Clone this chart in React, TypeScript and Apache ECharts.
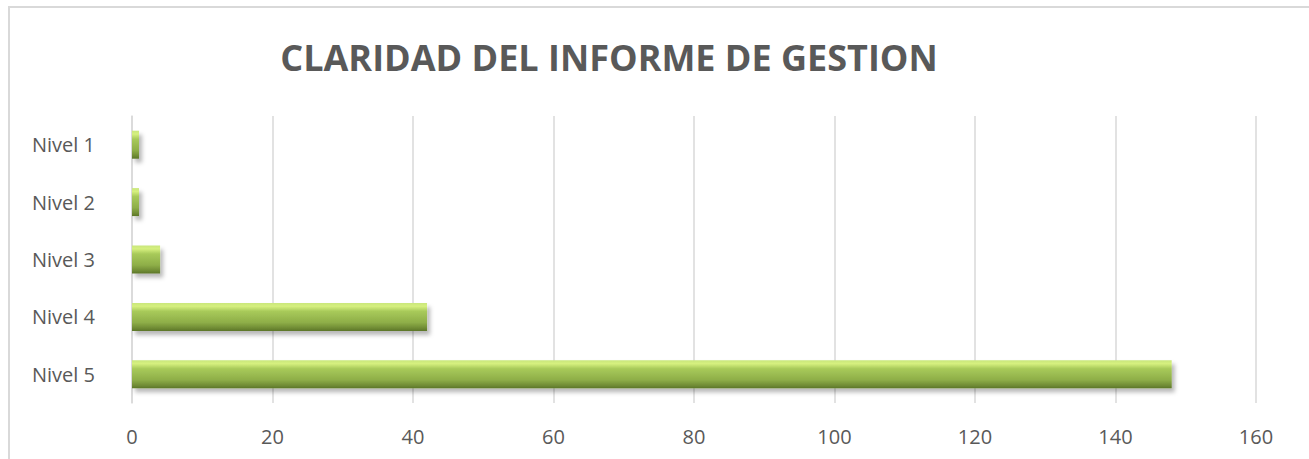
import React, { useEffect, useRef } from "react";
import * as echarts from "echarts";

const categories = ["Nivel 1", "Nivel 2", "Nivel 3", "Nivel 4", "Nivel 5"];
const values = [1, 1, 4, 42, 148];
const titleText = "CLARIDAD DEL INFORME DE GESTION";
const xTicks = { min: 0, max: 160, interval: 20 };

export default function App() {
  const ref = useRef<HTMLDivElement>(null);
  useEffect(() => {
    if (!ref.current) return;
    const chart = echarts.init(ref.current, null, { renderer: "svg" });
    const font = "'Open Sans', 'Liberation Sans', sans-serif";
    chart.setOption({
      animation: false,
      backgroundColor: "#ffffff",
      graphic: [
        {
          type: "rect",
          shape: { x: 9, y: 7, width: 1400, height: 500 },
          style: { fill: "none", stroke: "#d9d9d9", lineWidth: 2 },
          silent: true,
          z: -1,
        },
        {
          type: "text",
          x: 609,
          y: 57,
          style: {
            text: titleText,
            fontFamily: font,
            fontSize: 36,
            fontWeight: "bold",
            fill: "#595959",
            align: "center",
            verticalAlign: "middle",
          },
        },
      ],
      grid: { left: 132, right: 53, top: 116, bottom: 56, containLabel: false },
      xAxis: {
        type: "value",
        min: xTicks.min,
        max: xTicks.max,
        interval: xTicks.interval,
        axisLine: { show: false },
        axisTick: { show: false },
        splitLine: { show: true, lineStyle: { color: "#d9d9d9", width: 1.5 } },
        axisLabel: { color: "#595959", fontFamily: font, fontSize: 20, margin: 23 },
      },
      yAxis: {
        type: "category",
        data: categories,
        inverse: true,
        axisLine: { show: true, lineStyle: { color: "#d9d9d9", width: 1.5 } },
        axisTick: { show: false },
        axisLabel: { color: "#595959", fontFamily: font, fontSize: 20, margin: 37 },
      },
      series: [
        {
          type: "bar",
          data: values,
          barWidth: 28,
          itemStyle: {
            color: new echarts.graphic.LinearGradient(0, 0, 0, 1, [
              { offset: 0, color: "#c9e67c" },
              { offset: 0.12, color: "#d6f07f" },
              { offset: 0.3, color: "#a8ca5a" },
              { offset: 0.7, color: "#8eae48" },
              { offset: 0.9, color: "#6f8b34" },
              { offset: 1, color: "#5c7628" },
            ]),
            shadowColor: "rgba(0,0,0,0.28)",
            shadowBlur: 4,
            shadowOffsetX: 3,
            shadowOffsetY: 4,
          },
        },
      ],
    });
    return () => chart.dispose();
  }, []);
  return (
    <div
      ref={ref}
      style={{ position: "fixed", left: 0, top: 0, width: 1309, height: 459 }}
    />
  );
}
